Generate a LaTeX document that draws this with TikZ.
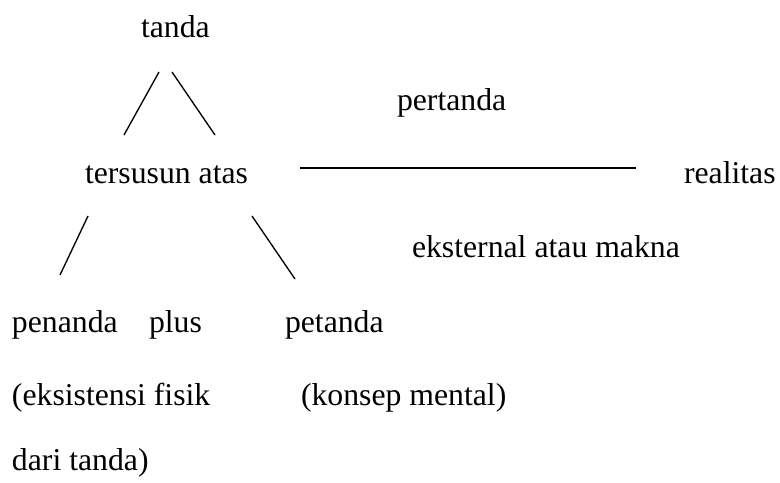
\documentclass[tikz,border=0pt]{standalone}
\usepackage{fontspec}
\setmainfont{Liberation Serif}
\begin{document}
\begin{tikzpicture}[x=0.75pt,y=-0.75pt,
  lbl/.style={anchor=base west,inner sep=0pt,outer sep=0pt,font=\fontsize{23.8}{28}\selectfont},
  thin line/.style={line width=1pt,line cap=butt},
  bar/.style={line width=1.5pt}]
\useasboundingbox (0,0) rectangle (780,482);
\node[lbl] (tanda) at (141,37) {tanda};
\node[lbl] (tersusun) at (85,183) {tersusun atas};
\node[lbl] (pertanda) at (397,110) {pertanda};
\node[lbl] (realitas) at (684,183) {realitas};
\node[lbl] (eksternal) at (412,257) {eksternal atau makna};
\node[lbl] (penanda) at (12,332) {penanda};
\node[lbl] (plus) at (149,332) {plus};
\node[lbl] (petanda) at (285,332) {petanda};
\node[lbl] (eksistensi) at (12,405) {(eksistensi fisik};
\node[lbl] (konsep) at (301,405) {(konsep mental)};
\node[lbl] (dari) at (12,470) {dari tanda)};
\coordinate (t1) at (159,72);
\coordinate (t2) at (124,135);
\coordinate (t3) at (172,72);
\coordinate (t4) at (215,135);
\coordinate (s1) at (88,216);
\coordinate (s2) at (60,275);
\coordinate (s3) at (252,216);
\coordinate (s4) at (295,279);
\coordinate (h1) at (300,168);
\coordinate (h2) at (636,168);
\draw[thin line] (t1) -- (t2);
\draw[thin line] (t3) -- (t4);
\draw[thin line] (s1) -- (s2);
\draw[thin line] (s3) -- (s4);
\draw[bar] (h1) -- (h2);
\end{tikzpicture}
\end{document}
